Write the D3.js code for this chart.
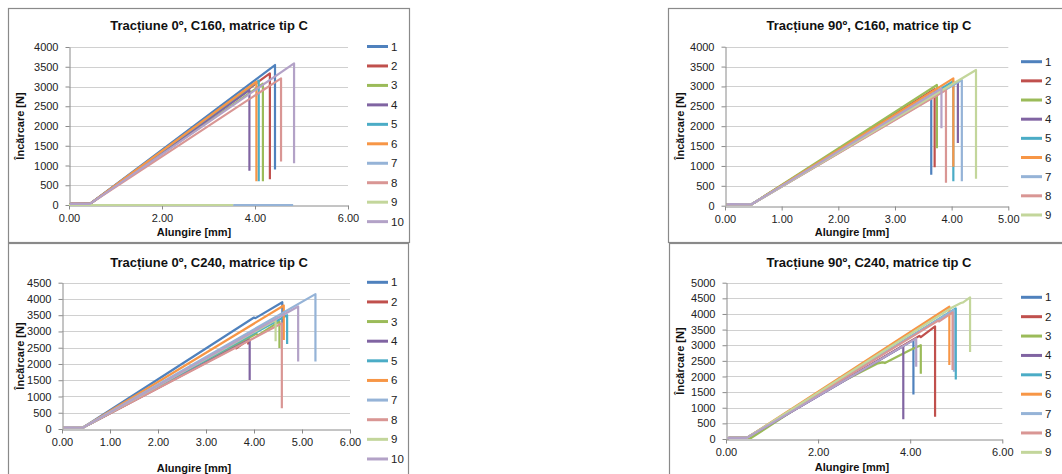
<!DOCTYPE html>
<html><head><meta charset="utf-8">
<script src="https://cdn.jsdelivr.net/npm/d3@7"></script>
<style>body{margin:0;background:#fff}svg{display:block}text{font-family:"Liberation Sans",Arial,sans-serif}</style>
</head><body><svg id="c" width="1062" height="474"></svg>
<script>
// ---------- data ----------
const SERIES_NAMES = ["1","2","3","4","5","6","7","8","9","10"];
const SERIES_COLORS = ["#4F81BD","#C0504D","#9BBB59","#8064A2","#4BACC6","#F79646","#95B3D7","#D99694","#C3D69B","#B3A2C7"];

const TITLES = ["Tracțiune 0º, C160, matrice tip C","Tracțiune 0º, C240, matrice tip C","Tracțiune 90º, C160, matrice tip C","Tracțiune 90º, C240, matrice tip C"];
const X_TITLE = "Alungire [mm]";
const Y_TITLE = "Încărcare [N]";

const X_TICKS_0_C160 = [0,2,4,6];
const Y_TICKS_0_C160 = [0,500,1000,1500,2000,2500,3000,3500,4000];
const X_TICKS_0_C240 = [0,1,2,3,4,5,6];
const Y_TICKS_0_C240 = [0,500,1000,1500,2000,2500,3000,3500,4000,4500];
const X_TICKS_90_C160 = [0,1,2,3,4,5];
const Y_TICKS_90_C160 = [0,500,1000,1500,2000,2500,3000,3500,4000];
const X_TICKS_90_C240 = [0,2,4,6];
const Y_TICKS_90_C240 = [0,500,1000,1500,2000,2500,3000,3500,4000,4500,5000];

// each series: [elongation mm, load N] points
const T0_C160 = [
  [[0.02,20],[0.1,35],[0.45,30],[4.43,3544],[4.43,900]],
  [[0.02,20],[0.1,35],[0.45,30],[4.32,3330],[4.32,650]],
  [[0.02,20],[0.1,35],[0.45,30],[4.17,3070],[4.17,600]],
  [[0.02,20],[0.1,35],[0.45,30],[3.88,2910],[3.88,870]],
  [[0.02,20],[0.1,35],[0.45,30],[4.08,3150],[4.08,600]],
  [[0.02,20],[0.1,35],[0.45,30],[4.03,3120],[4.03,600]],
  [[3.53,0],[4.82,0]],
  [[0.02,20],[0.1,35],[0.45,30],[4.56,3207],[4.56,1100]],
  [[0.0,0],[3.53,0]],
  [[0.02,20],[0.1,35],[0.45,30],[4.84,3587],[4.84,1060]]
];
const T0_C240 = [
  [[0.03,40],[0.1,50],[0.44,45],[4.0,3430],[4.03,3410],[4.59,3898],[4.59,2750]],
  [[0.03,40],[0.1,50],[0.44,45],[3.6,2520],[3.63,2480],[3.88,2740],[3.88,2600]],
  [[0.03,40],[0.1,50],[0.44,45],[4.05,2930],[4.08,2880],[4.53,3312],[4.53,2490]],
  [[0.03,40],[0.1,50],[0.44,45],[3.91,2750],[3.91,1510]],
  [[0.03,40],[0.1,50],[0.44,45],[4.69,3500],[4.69,2612]],
  [[0.03,40],[0.1,50],[0.44,45],[4.62,3800],[4.62,2740]],
  [[0.03,40],[0.1,50],[0.44,45],[5.28,4150],[5.28,2080]],
  [[0.03,40],[0.1,50],[0.44,45],[4.58,3250],[4.58,635]],
  [[0.03,40],[0.1,50],[0.44,45],[4.45,3350],[4.45,2700]],
  [[0.03,40],[0.1,50],[0.44,45],[4.92,3770],[4.92,2080]]
];
const T90_C160 = [
  [[0.03,30],[0.1,40],[0.47,35],[3.64,2870],[3.64,780]],
  [[0.03,30],[0.1,40],[0.47,35],[3.70,2930],[3.70,970]],
  [[0.03,30],[0.1,40],[0.47,35],[3.74,3036],[3.74,1443]],
  [[0.03,30],[0.1,40],[0.47,35],[4.11,3120],[4.11,1580]],
  [[0.03,30],[0.1,40],[0.47,35],[4.03,3130],[4.03,615]],
  [[0.03,30],[0.1,40],[0.47,35],[4.03,3204],[4.03,981]],
  [[0.03,30],[0.1,40],[0.47,35],[4.18,3160],[4.18,615]],
  [[0.03,30],[0.1,40],[0.47,35],[3.90,2911],[3.90,579]],
  [[0.03,30],[0.1,40],[0.47,35],[4.43,3414],[4.43,680]],
  [[0.03,30],[0.1,40],[0.47,35],[3.82,2950],[3.82,1947]]
];
const T90_C240 = [
  [[0.03,30],[0.1,40],[0.45,35],[4.07,3166],[4.07,1420]],
  [[0.03,30],[0.1,40],[0.45,35],[4.2,3300],[4.23,3260],[4.54,3600],[4.54,714]],
  [[0.03,30],[0.1,40],[0.55,35],[2.0,1440],[3.3,2420],[3.4,2450],[3.45,2430],[4.0,2850],[4.23,3000],[4.23,2090]],
  [[0.03,30],[0.1,40],[0.45,35],[3.85,2974],[3.85,629]],
  [[0.03,30],[0.1,40],[0.45,35],[4.99,4179],[4.99,1900]],
  [[0.03,30],[0.1,40],[0.45,35],[4.85,4232],[4.85,2366]],
  [[0.03,30],[0.1,40],[0.45,35],[4.95,4125],[4.95,2153]],
  [[0.03,30],[0.1,40],[0.45,35],[4.6,3780],[4.63,3760],[4.92,4050],[4.92,2206]],
  [[0.03,30],[0.1,40],[0.45,35],[4.9,4200],[5.1,4350],[5.15,4370],[5.30,4531],[5.30,2780]],
  [[0.03,30],[0.1,40],[0.45,35],[4.13,3220],[4.13,2313]]
];

// ---------- layout ----------
const charts = [
  {title:TITLES[0], data:T0_C160, xTicks:X_TICKS_0_C160, yTicks:Y_TICKS_0_C160,
   frame:[8,8,401,234], plot:{l:69,r:348,b:205,t:47}, titleXY:[209,25], xTitleXY:[194,232], yTitleXY:[20,126],
   legend:{x:367,y:46.5,dy:19.46,n:10}, xPad:5},
  {title:TITLES[1], data:T0_C240, xTicks:X_TICKS_0_C240, yTicks:Y_TICKS_0_C240,
   frame:[8,243,400,240], plot:{l:62,r:350,b:429,t:282.7}, titleXY:[209,262], xTitleXY:[194,468], yTitleXY:[20,356],
   legend:{x:367,y:282.3,dy:19.63,n:10}, xPad:5},
  {title:TITLES[2], data:T90_C160, xTicks:X_TICKS_90_C160, yTicks:Y_TICKS_90_C160,
   frame:[668,8,410,234], plot:{l:725,r:1008.3,b:205.7,t:46.7}, titleXY:[869,25], xTitleXY:[852,232], yTitleXY:[680,126],
   legend:{x:1021,y:61.7,dy:19.16,n:9}, xPad:5},
  {title:TITLES[3], data:T90_C240, xTicks:X_TICKS_90_C240, yTicks:Y_TICKS_90_C240,
   frame:[669,243,410,240], plot:{l:726,r:1002.3,b:439,t:282.7}, titleXY:[869,262], xTitleXY:[852,467], yTitleXY:[680,361],
   legend:{x:1021,y:297.3,dy:19.38,n:9}, xPad:5}
];

const svg = d3.select("#c");
svg.append("rect").attr("width",1062).attr("height",474).attr("fill","#fff");

charts.forEach(c => {
  const g = svg.append("g");
  g.append("rect").attr("x",c.frame[0]+0.5).attr("y",c.frame[1]+0.5).attr("width",c.frame[2]).attr("height",c.frame[3])
    .attr("fill","#fff").attr("stroke","#8a8a8a").attr("stroke-width",1.2);

  const x = d3.scaleLinear().domain([c.xTicks[0], c.xTicks[c.xTicks.length-1]]).range([c.plot.l, c.plot.r]);
  const y = d3.scaleLinear().domain([c.yTicks[0], c.yTicks[c.yTicks.length-1]]).range([c.plot.b, c.plot.t]);

  g.append("g").selectAll("line").data(c.yTicks.slice(1)).join("line")
    .attr("x1",c.plot.l).attr("x2",c.plot.r)
    .attr("y1",d=>Math.round(y(d))+0.5).attr("y2",d=>Math.round(y(d))+0.5)
    .attr("stroke","#d0d0d0").attr("stroke-width",1);

  const ya = g.append("g").attr("transform",`translate(${Math.round(c.plot.l)+0.5},0)`)
    .call(d3.axisLeft(y).tickValues(c.yTicks).tickSize(4).tickSizeOuter(0).tickPadding(7).tickFormat(d3.format("d")));
  const xa = g.append("g").attr("transform",`translate(0,${Math.round(c.plot.b)+0.5})`)
    .call(d3.axisBottom(x).tickValues(c.xTicks).tickSize(4).tickSizeOuter(0).tickPadding(c.xPad).tickFormat(d3.format(".2f")));
  [ya,xa].forEach(a=>{
    a.select(".domain").attr("stroke","#8a8a8a");
    a.selectAll(".tick line").attr("stroke","#8a8a8a");
    a.selectAll("text").attr("font-size",11).attr("fill","#222").style("font-family","'Liberation Sans',Arial,sans-serif");
  });

  const line = d3.line().defined(d=>d!==null).x(d=>x(d[0])).y(d=>y(d[1]));
  c.data.forEach((s,i)=>{
    g.append("path").attr("d",line(s)).attr("fill","none")
      .attr("stroke",SERIES_COLORS[i]).attr("stroke-width",2.2).attr("stroke-linejoin","round");
  });

  g.append("text").attr("x",c.titleXY[0]).attr("y",c.titleXY[1]).attr("text-anchor","middle").attr("dominant-baseline","central")
    .attr("font-size",13).attr("font-weight","bold").attr("fill","#111").text(c.title);
  g.append("text").attr("x",c.xTitleXY[0]).attr("y",c.xTitleXY[1]).attr("text-anchor","middle").attr("dominant-baseline","central")
    .attr("font-size",11).attr("font-weight","bold").attr("fill","#111").text(X_TITLE);
  g.append("text").attr("transform",`translate(${c.yTitleXY[0]},${c.yTitleXY[1]}) rotate(-90)`).attr("text-anchor","middle")
    .attr("dominant-baseline","central").attr("font-size",11).attr("font-weight","bold").attr("fill","#111").text(Y_TITLE);

  const lg = g.append("g");
  SERIES_NAMES.slice(0,c.legend.n).forEach((n,i)=>{
    const ly = c.legend.y + i*c.legend.dy;
    lg.append("line").attr("x1",c.legend.x).attr("x2",c.legend.x+21).attr("y1",ly).attr("y2",ly)
      .attr("stroke",SERIES_COLORS[i]).attr("stroke-width",3);
    lg.append("text").attr("x",c.legend.x+24).attr("y",ly).attr("dominant-baseline","central")
      .attr("font-size",11.5).attr("fill","#222").text(n);
  });
});
</script></body></html>
